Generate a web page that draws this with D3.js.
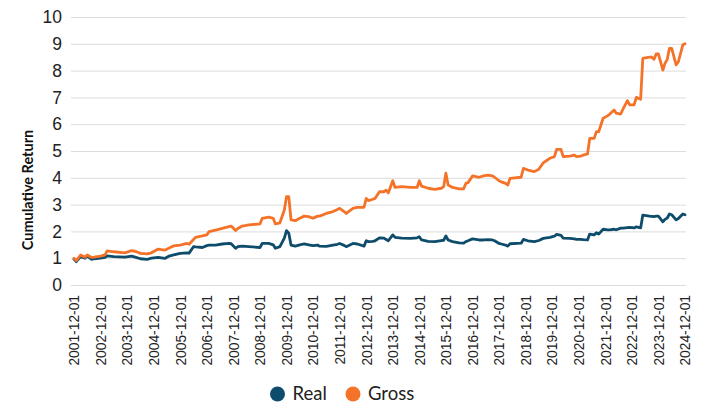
<!DOCTYPE html>
<html><head><meta charset="utf-8">
<script src="https://cdn.jsdelivr.net/npm/d3@7"></script>
<style>body{margin:0;background:#fff;} svg{display:block;font-family:Lato, "Noto Sans", sans-serif;}</style>
</head><body><svg id="c" width="702" height="403"></svg>
<script>
const months = [
"2001-12","2002-01","2002-03","2002-05","2002-06","2002-08","2002-09","2002-12",
"2003-02","2003-03","2003-06","2003-11",
"2004-02","2004-04","2004-06","2004-09","2004-11",
"2005-02","2005-05","2005-07","2005-09","2005-12",
"2006-03","2006-04","2006-06","2006-07","2006-10","2006-12",
"2007-01","2007-04","2007-07","2007-10","2007-11",
"2008-01","2008-02","2008-04","2008-07","2008-12",
"2009-01","2009-04","2009-06","2009-07","2009-09","2009-11","2009-12",
"2010-01","2010-02","2010-04","2010-06","2010-08","2010-10","2010-12",
"2011-02","2011-03","2011-06","2011-09","2011-11","2011-12",
"2012-02","2012-03","2012-06","2012-08","2012-11","2012-12",
"2013-01","2013-03","2013-04","2013-06","2013-08","2013-09","2013-10","2013-12",
"2014-01","2014-04","2014-08","2014-11","2014-12",
"2015-01","2015-04","2015-07","2015-10","2015-11","2015-12",
"2016-01","2016-03","2016-06","2016-08","2016-09","2016-10","2016-12",
"2017-03","2017-05","2017-07","2017-09","2017-10","2017-12",
"2018-01","2018-03","2018-04","2018-05","2018-10","2018-11",
"2019-01","2019-04","2019-06","2019-08","2019-11",
"2020-01","2020-02","2020-04","2020-05","2020-08","2020-10","2020-11",
"2021-01","2021-02","2021-04","2021-05","2021-07","2021-08","2021-09","2021-11",
"2022-01","2022-02","2022-04","2022-05","2022-07","2022-08","2022-10","2022-11",
"2023-01","2023-02","2023-04","2023-05","2023-08","2023-09","2023-10","2023-11","2023-12",
"2024-02","2024-03","2024-04","2024-05","2024-06","2024-08","2024-09","2024-11","2024-12"
];
const grossValues = [
1.0,0.91,1.12,1.04,1.12,1.03,1.04,1.08,
1.12,1.27,1.24,1.2,
1.28,1.25,1.18,1.16,1.2,
1.34,1.3,1.38,1.46,1.49,
1.55,1.52,1.7,1.78,1.83,1.87,
1.99,2.05,2.11,2.18,2.2,
2.03,2.11,2.2,2.24,2.28,
2.49,2.53,2.49,2.28,2.32,2.8,3.3,
3.3,2.43,2.4,2.49,2.57,2.55,2.49,
2.57,2.57,2.67,2.74,2.82,2.86,
2.74,2.67,2.86,2.9,2.9,3.23,
3.15,3.2,3.23,3.48,3.48,3.54,3.44,3.89,
3.64,3.67,3.64,3.64,3.89,
3.69,3.61,3.57,3.61,3.67,4.17,
3.73,3.64,3.59,3.59,3.79,3.82,4.07,
4.02,4.07,4.1,4.07,4.02,3.89,
3.85,3.79,3.73,3.98,4.02,4.35,
4.29,4.23,4.32,4.56,4.73,
4.79,5.06,5.06,4.79,4.81,4.85,4.79,
4.81,4.85,4.89,5.47,5.47,5.72,5.72,6.22,
6.31,6.38,6.53,6.41,6.38,6.56,6.88,6.72,
6.72,7.0,6.93,8.46,8.5,8.5,8.42,8.62,8.62,
8.02,8.27,8.42,8.83,8.83,8.21,8.33,8.96,9.0
];
const realValues = [
0.97,0.87,1.06,1.0,1.08,0.96,0.98,1.0,
1.03,1.09,1.06,1.04,
1.08,1.03,0.98,0.96,1.0,
1.03,0.99,1.08,1.12,1.18,
1.2,1.19,1.43,1.42,1.4,1.47,
1.49,1.49,1.53,1.55,1.54,
1.37,1.43,1.45,1.43,1.4,
1.55,1.55,1.5,1.37,1.43,1.75,2.03,
1.93,1.49,1.45,1.5,1.53,1.5,1.47,
1.49,1.45,1.44,1.49,1.52,1.55,
1.48,1.43,1.55,1.53,1.45,1.65,
1.62,1.63,1.65,1.76,1.75,1.7,1.65,1.87,
1.78,1.75,1.74,1.76,1.8,
1.68,1.63,1.62,1.66,1.67,1.83,
1.68,1.62,1.57,1.56,1.62,1.65,1.72,
1.68,1.68,1.69,1.68,1.65,1.55,
1.53,1.49,1.45,1.54,1.56,1.7,
1.65,1.62,1.66,1.74,1.78,
1.82,1.89,1.85,1.75,1.74,1.72,1.7,
1.7,1.69,1.68,1.9,1.87,1.95,1.9,2.08,
2.06,2.06,2.08,2.06,2.12,2.12,2.14,2.15,
2.13,2.17,2.13,2.61,2.57,2.56,2.55,2.57,2.57,
2.36,2.45,2.5,2.65,2.62,2.43,2.48,2.65,2.62
];
const yTicks = [0,1,2,3,4,5,6,7,8,9,10];
const xTickLabels = ["2001-12-01","2002-12-01","2003-12-01","2004-12-01","2005-12-01","2006-12-01",
"2007-12-01","2008-12-01","2009-12-01","2010-12-01","2011-12-01","2012-12-01","2013-12-01",
"2014-12-01","2015-12-01","2016-12-01","2017-12-01","2018-12-01","2019-12-01","2020-12-01",
"2021-12-01","2022-12-01","2023-12-01","2024-12-01"];
const seriesNames = ["Real","Gross"];
const seriesColors = ["#0e4c6b","#f47328"];
const yTitle = "Cumulative Return";

const svg = d3.select("#c");
const parseM = d3.timeParse("%Y-%m");
const parseD = d3.timeParse("%Y-%m-%d");
const x = d3.scaleTime().domain([parseD(xTickLabels[0]), parseD(xTickLabels[xTickLabels.length-1])]).range([74,685]);
const y = d3.scaleLinear().domain([0,10]).range([285,17]);

// y axis + gridlines
const gy = svg.append("g").attr("transform","translate(71,0)")
  .call(d3.axisLeft(y).tickValues(yTicks).tickSize(-615).tickPadding(9).tickFormat(d3.format("d")));
gy.select(".domain").remove();
gy.selectAll(".tick line").attr("stroke","#dcdcdc").attr("stroke-width",1);
gy.selectAll(".tick text").attr("fill","#222").style("font-size","17.5px");

// x axis
const gx = svg.append("g").attr("transform","translate(0,285)")
  .call(d3.axisBottom(x).tickValues(xTickLabels.map(parseD)).tickSize(0).tickFormat(d3.timeFormat("%Y-%m-%d")));
gx.select(".domain").remove();
gx.selectAll(".tick text").attr("fill","#222").style("font-size","13.8px")
  .attr("transform","rotate(-90)").attr("x",-10).attr("y",0).attr("dy","0.35em").style("text-anchor","end");

// y title
svg.append("text").attr("transform","translate(33,190) rotate(-90)")
  .attr("text-anchor","middle").style("font-size","14.5px").style("font-weight","bold").attr("fill","#111")
  .text(yTitle);

// lines
const series = [realValues, grossValues];
const line = d3.line().x((d,i)=>x(parseM(months[i]))).y(d=>y(d));
series.forEach((vals,k)=>{
  svg.append("path").datum(vals).attr("d",line).attr("fill","none")
    .attr("stroke",seriesColors[k]).attr("stroke-width",2.8)
    .attr("stroke-linejoin","round").attr("stroke-linecap","round");
});

// legend
const legendX = [277.5, 353];
seriesNames.forEach((n,k)=>{
  svg.append("circle").attr("cx",legendX[k]).attr("cy",394).attr("r",7.5).attr("fill",seriesColors[k]);
  svg.append("text").attr("x",legendX[k]+15).attr("y",394).attr("dy","0.35em")
    .style("font-size","18.5px").attr("fill","#222").text(n);
});
</script></body></html>
